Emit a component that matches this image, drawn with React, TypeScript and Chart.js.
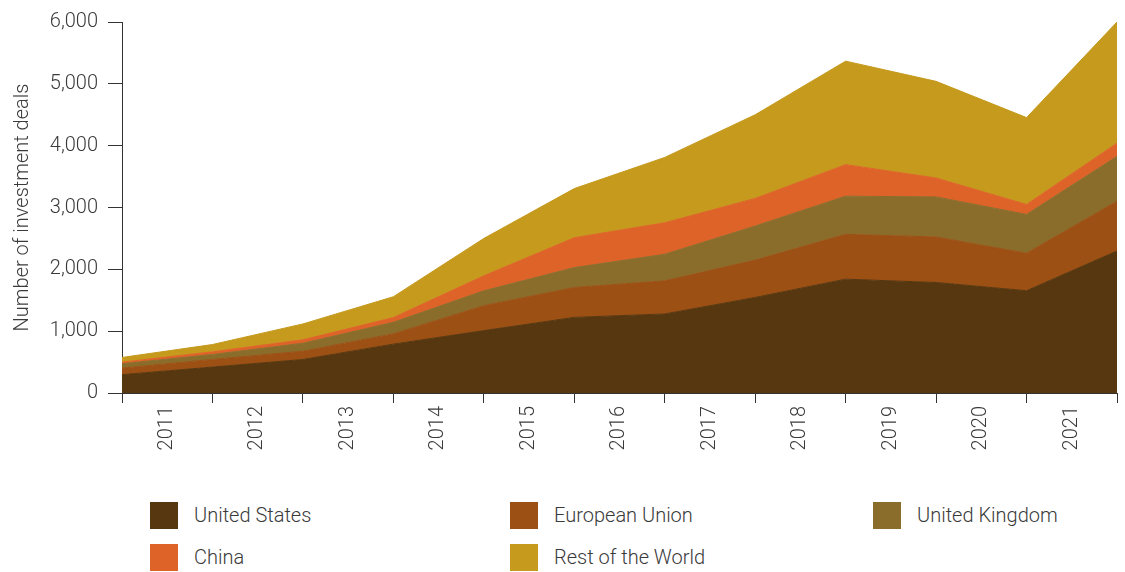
import React, { useEffect, useRef } from "react";
import { Chart, registerables } from "chart.js";

Chart.register(...registerables);

const YEARS = ["2011", "2012", "2013", "2014", "2015", "2016", "2017", "2018", "2019", "2020", "2021"];
const POINT_LABELS = [...YEARS, ""];

const SERIES_NAMES = ["United States", "European Union", "United Kingdom", "China", "Rest of the World"];
const US = [296, 419, 542, 790, 1009, 1223, 1278, 1545, 1841, 1787, 1654, 2297];
const EU = [106, 124, 134, 166, 403, 483, 536, 604, 725, 736, 606, 805];
const UK = [71, 80, 129, 187, 241, 322, 430, 551, 617, 648, 628, 725];
const CHINA = [26, 43, 55, 77, 242, 483, 509, 447, 510, 306, 161, 214];
const ROW = [76, 118, 257, 337, 605, 795, 1057, 1353, 1674, 1563, 1405, 1959];
const SERIES = [US, EU, UK, CHINA, ROW];
const COLORS = ["#57370f", "#9c5014", "#8a6d2b", "#de6328", "#c59a1d"];

const Y_TICK_STEP = 1000;
const Y_MAX = 6000;

const TEXT_COLOR = "#3a3a3a";
const AXIS_COLOR = "#333";
const FONT = { family: "Roboto", size: 20, weight: 300 as any };

export default function App() {
  const canvasRef = useRef<HTMLCanvasElement | null>(null);

  useEffect(() => {
    document.body.style.margin = "0";
    const canvas = canvasRef.current;
    if (!canvas) return;
    const chart = new Chart(canvas, {
      type: "line",
      data: {
        labels: POINT_LABELS,
        datasets: SERIES.map((values, i) => ({
          label: SERIES_NAMES[i],
          data: values,
          backgroundColor: COLORS[i],
          borderColor: COLORS[i],
          borderWidth: 1,
          pointRadius: 0,
          tension: 0,
          fill: i === 0 ? "origin" : "-1",
        })),
      },
      options: {
        responsive: false,
        animation: false,
        layout: { padding: { left: 0, right: 8, top: 20, bottom: 0 } },
        plugins: {
          legend: { display: false },
          tooltip: { enabled: false },
        },
        scales: {
          x: {
            offset: false,
            grid: {
              offset: false,
              drawOnChartArea: false,
              drawTicks: true,
              tickLength: 10,
              color: AXIS_COLOR,
              lineWidth: 1,
            },
            border: { display: true, color: AXIS_COLOR, width: 1 },
            ticks: {
              autoSkip: false,
              maxRotation: 90,
              minRotation: 90,
              labelOffset: 45,
              padding: 3,
              color: TEXT_COLOR,
              font: FONT,
            },
            afterFit: (s: any) => {
              s.height = 67;
              s.paddingLeft = 0;
              s.paddingRight = 0;
            },
          },
          y: {
            stacked: true,
            min: 0,
            max: Y_MAX,
            ticks: {
              stepSize: Y_TICK_STEP,
              padding: 10,
              color: TEXT_COLOR,
              font: FONT,
              callback: (v: any) => Number(v).toLocaleString("en-US"),
            },
            grid: {
              drawOnChartArea: false,
              drawTicks: true,
              tickLength: 14,
              color: AXIS_COLOR,
              lineWidth: 1,
            },
            border: { display: true, color: AXIS_COLOR, width: 1 },
            title: {
              display: true,
              text: "Number of investment deals",
              color: TEXT_COLOR,
              font: { family: "Roboto", size: 20, weight: 300 as any },
              padding: { top: 11, bottom: 0 },
            },
            afterFit: (s: any) => {
              s.width = 122;
            },
          },
        },
      },
    });
    return () => chart.destroy();
  }, []);

  return (
    <div style={{ position: "relative", width: 1125, height: 572, background: "#fff", fontFamily: "Roboto" }}>
      <canvas ref={canvasRef} width={1125} height={460} style={{ position: "absolute", left: 0, top: 0, width: 1125, height: 460 }} />
      <div
        style={{
          position: "absolute",
          left: 150,
          top: 502,
          display: "grid",
          gridTemplateColumns: "360px 363px 250px",
          gridAutoRows: "42px",
        }}
      >
        {SERIES_NAMES.map((name, i) => (
          <div key={name} style={{ display: "flex", alignItems: "flex-start", height: 42 }}>
            <div style={{ width: 28, height: 27, background: COLORS[i], flex: "none" }} />
            <span
              style={{
                marginLeft: 16,
                fontSize: 20,
                fontWeight: 300,
                color: TEXT_COLOR,
                lineHeight: "27px",
                whiteSpace: "nowrap",
              }}
            >
              {name}
            </span>
          </div>
        ))}
      </div>
    </div>
  );
}
